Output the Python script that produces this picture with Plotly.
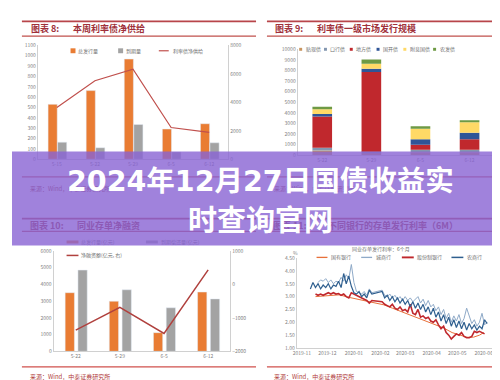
import plotly.graph_objects as go

W, H = 500, 380
def X(px): return px / W
def Y(py): return 1 - py / H

FONT = "Noto Sans CJK SC, Noto Sans, sans-serif"
TITLE_FONT = "DejaVu Sans, Noto Sans CJK SC, sans-serif"

# ---------------- Panel 1 data ----------------
p1_title = ["图表 8:", "本周利率债净供给"]
p1_cats = ["5-15", "5-22", "5-29", "6-5", "6-12"]
p1_issue = [530, 663, 968, 292, 343]
p1_mature = [165, 111, 336, 70, 159]
p1_net = [3630, 5520, 6320, 2230, 1885]
p1_names = ["总发行量", "到期量", "利率债净供给"]

# ---------------- Panel 2 data ----------------
p2_title = ["图表 9:", "利率债一级市场发行规模"]
p2_cats = ["5-22", "5-29", "6-5", "6-12"]
p2_names = ["贴现债", "口行债", "地方债", "国开债", "附息国债", "农发债"]
p2_discount = [450, 220, 300, 300]
p2_exim = [270, 110, 225, 225]
p2_local = [2950, 7540, 465, 985]
p2_cdb = [220, 300, 520, 620]
p2_coupon = [450, 460, 990, 985]
p2_adbc = [250, 400, 250, 185]

# ---------------- Panel 3 data ----------------
p3_title = ["图表 10:", "同业存单净融资"]
p3_cats = ["5-22", "5-29", "6-5", "6-12"]
p3_issue = [3500, 2990, 1115, 3540]
p3_mature = [4850, 3675, 2600, 3130]
p3_net = [-1365, -690, -1465, 430]
p3_names = ["总发行量(亿元)", "到期偿还量(亿元)", "净融资额(亿元, 右)"]

# ---------------- Panel 4 data ----------------
p4_title = ["图表 11:", "不同银行的存单发行利率（6M）"]
p4_subtitle = "同业存单发行利率：6个月"
p4_names = ["国有银行", "城商行", "股份制银行", "农商行"]
p4_dates = [
    "2019-11-11", "2019-11-14", "2019-11-17", "2019-11-20", "2019-11-23", "2019-11-26", "2019-11-29",
    "2019-12-02", "2019-12-05", "2019-12-08", "2019-12-11", "2019-12-14", "2019-12-17", "2019-12-20",
    "2019-12-23", "2019-12-26", "2019-12-29",
    "2020-01-01", "2020-01-04", "2020-01-07", "2020-01-10", "2020-01-13", "2020-01-16", "2020-01-19", "2020-01-22",
    "2020-02-03", "2020-02-06", "2020-02-09", "2020-02-12", "2020-02-15", "2020-02-18", "2020-02-21",
    "2020-02-24", "2020-02-27",
    "2020-03-01", "2020-03-04", "2020-03-07", "2020-03-10", "2020-03-13", "2020-03-16", "2020-03-19",
    "2020-03-22", "2020-03-25", "2020-03-28", "2020-03-31",
    "2020-04-03", "2020-04-06", "2020-04-09", "2020-04-12", "2020-04-15", "2020-04-18", "2020-04-21",
    "2020-04-24", "2020-04-27", "2020-04-30",
    "2020-05-03", "2020-05-06", "2020-05-09", "2020-05-12", "2020-05-15", "2020-05-18", "2020-05-21",
    "2020-05-24", "2020-05-27", "2020-05-30",
    "2020-06-02", "2020-06-05",
]
p4_city = [
    None, None, None, 3.55, 3.65, 3.6, 3.7,
    3.55, 3.65, 3.5, 3.6, 3.55, 3.75, 3.6, 3.85, 3.7, 4.25,
    3.55, 3.2, 3.15, 3.1, 3.2, 3.05, 3.3, 3.15,
    3.25, 3.05, 3.0, 3.1, 2.95, 3.05, 2.9, 3.0, 2.85,
    3.0, 2.85, 2.95, 2.8, 2.9, 3.0, 2.75, 2.9, 2.65, 2.85, 2.6,
    2.7, 2.45, 2.6, 2.3, 2.5, 2.15, 2.35, 2.0, 2.25, 2.05,
    2.3, 1.95, 2.15, 2.55, 2.2, 1.95, 2.1, 1.85, 2.0, 2.35,
    1.9, 2.0,
]
p4_rural = [
    3.3, 3.55, 3.35, 3.5, 3.3, 3.45, 3.35,
    3.5, 3.3, 3.45, 3.4, 3.6, 3.35, 3.9, 3.5, 3.8, 3.4,
    3.15, 3.1, 3.2, 3.0, 3.1, 2.95, 3.25, 3.1,
    3.2, 2.95, 3.05, 2.85, 3.0, 2.8, 2.95, 2.75, 2.9,
    2.7, 2.85, 2.6, 2.8, 2.55, 2.75, 2.5, 2.7, 2.4, 2.6, 2.3,
    2.55, 2.2, 2.4, 2.05, 2.3, 1.95, 2.2, 1.85, 2.1, 1.8,
    2.05, 1.75, 2.0, 1.7, 1.95, 1.75, 1.9, 1.7, 1.85, 1.75,
    2.1, 1.95,
]
p4_joint = [
    None, None, 3.1, 3.05, 3.1, 3.05, 3.1,
    3.15, 3.1, 3.15, 3.1, 3.12, 3.05, 3.1, 3.0, 2.95, 3.15,
    3.1, 3.05, 3.0, 2.95, 2.9, 2.85, 2.75, 2.85,
    2.8, 2.7, 2.65, 2.6, 2.7, 2.55, 2.5, 2.6, 2.45,
    2.5, 2.4, 2.7, 2.35, 2.3, 2.5, 2.2, 2.25, 2.15, 2.2, 2.05,
    2.0, 2.1, 1.9, 1.75, 1.85, 1.6, 1.5, 1.35, 1.45, 1.55,
    1.5, 1.6, 1.45, 1.4, 1.4, 1.45, 1.65, 1.6, 1.65, 1.6,
    1.55, None,
]
p4_state_dates = [
    "2019-11-17", "2019-11-25", "2019-12-05", "2019-12-15", "2019-12-25", "2020-01-05", "2020-01-15",
    "2020-01-22", "2020-02-05", "2020-02-15", "2020-02-25", "2020-03-05", "2020-03-15", "2020-03-25",
    "2020-04-05", "2020-04-15", "2020-04-25", "2020-05-05", "2020-05-12", "2020-05-20", "2020-05-27",
    "2020-06-01",
]
p4_state = [
    3.0, 3.02, 3.05, 3.07, 2.98, 2.9, 2.85,
    2.8, 2.68, 2.55, 2.42, 2.3, 2.2, 2.05,
    1.92, 1.78, 1.6, 1.48, 1.42, 1.42, 1.5,
    1.6,
]

source_text = "来源：Wind，中泰证券研究所"
big_title = ["2024年12月27日国债收益实", "时查询官网"]

# colours
ORANGE = "#E97C33"
GRAY = "#A3A3A3"
LINE1 = "#C0504D"
P2_COLORS = ["#C8955F", "#8497B0", "#C0282D", "#2F5597", "#FFD966", "#6E9A44"]
P4_COLORS = ["#E8703A", "#8FAAC8", "#C0282D", "#2F5F8F"]
P4_WIDTHS = [1.0, 1.0, 1.6, 1.2]
HEAD = "#A0303A"
TICK = "#7f7f7f"
AXL = "#d0d0d0"

fig = go.Figure()

# ---- panel 1 traces ----
fig.add_trace(go.Bar(x=p1_cats, y=p1_issue, marker_color=ORANGE, width=0.24, offset=-0.23,
                     xaxis="x", yaxis="y", name=p1_names[0]))
fig.add_trace(go.Bar(x=p1_cats, y=p1_mature, marker_color=GRAY, width=0.24, offset=0.02,
                     xaxis="x", yaxis="y", name=p1_names[1]))
fig.add_trace(go.Scatter(x=p1_cats, y=p1_net, mode="lines", line=dict(color=LINE1, width=1.2),
                         xaxis="x", yaxis="y2", name=p1_names[2]))

# ---- panel 2 traces (stacked via base) ----
p2_series = [p2_discount, p2_exim, p2_local, p2_cdb, p2_coupon, p2_adbc]
base = [0] * len(p2_cats)
for name, vals, col in zip(p2_names, p2_series, P2_COLORS):
    fig.add_trace(go.Bar(x=p2_cats, y=vals, base=list(base), marker_color=col, width=0.4, offset=-0.2,
                         xaxis="x2", yaxis="y3", name=name, marker_line_width=0))
    base = [b + v for b, v in zip(base, vals)]

# ---- panel 3 traces ----
fig.add_trace(go.Bar(x=p3_cats, y=p3_issue, marker_color=ORANGE, width=0.21, offset=-0.24,
                     xaxis="x3", yaxis="y4", name=p3_names[0]))
fig.add_trace(go.Bar(x=p3_cats, y=p3_mature, marker_color=GRAY, width=0.21, offset=0.05,
                     xaxis="x3", yaxis="y4", name=p3_names[1]))
fig.add_trace(go.Scatter(x=p3_cats, y=p3_net, mode="lines", line=dict(color="#B0413E", width=1.5),
                         xaxis="x3", yaxis="y5", name=p3_names[2]))

# ---- panel 4 traces ----
p4_x = [p4_state_dates, p4_dates, p4_dates, p4_dates]
p4_y = [p4_state, p4_city, p4_joint, p4_rural]
for name, xs, ys, col, w in zip(p4_names, p4_x, p4_y, P4_COLORS, P4_WIDTHS):
    fig.add_trace(go.Scatter(x=xs, y=ys, mode="lines", line=dict(color=col, width=w),
                             connectgaps=True, xaxis="x4", yaxis="y6", name=name))

tickfont = dict(family=FONT, size=5, color=TICK)
ax_common = dict(showgrid=False, zeroline=False, showline=True, linecolor=AXL, linewidth=1,
                 tickfont=tickfont, ticks="", fixedrange=True)
num_ax = dict(ax_common, tickformat="d")

fig.update_layout(
    width=W, height=H, margin=dict(l=0, r=0, t=0, b=0),
    paper_bgcolor="white", plot_bgcolor="rgba(0,0,0,0)",
    barmode="overlay", showlegend=False, font=dict(family=FONT),
    xaxis=dict(ax_common, domain=[X(26), X(218)], anchor="y", type="category", range=[-0.5, 4.5]),
    yaxis=dict(num_ax, domain=[Y(150), Y(34)], anchor="x", range=[0, 1100], dtick=100),
    yaxis2=dict(num_ax, overlaying="y", side="right", anchor="x", range=[0, 8000], dtick=2000),
    xaxis2=dict(ax_common, domain=[X(288), X(486)], anchor="y3", type="category", range=[-0.5, 3.5]),
    yaxis3=dict(num_ax, domain=[Y(146), Y(38)], anchor="x2", range=[0, 10000], dtick=1000),
    xaxis3=dict(ax_common, domain=[X(42), X(220)], anchor="y4", type="category", range=[-0.5, 3.5]),
    yaxis4=dict(num_ax, domain=[Y(345.7), Y(243.3)], anchor="x3", range=[0, 6000], dtick=1000),
    yaxis5=dict(num_ax, overlaying="y4", side="right", anchor="x3", range=[-2000, 1000], dtick=1000),
    xaxis4=dict(ax_common, domain=[X(287), X(485)], anchor="y6", type="date",
                range=["2019-10-26", "2020-06-12"], dtick="M1", tickformat="%Y-%m"),
    yaxis6=dict(ax_common, domain=[Y(342.3), Y(250.7)], anchor="x4", range=[1, 4.5], dtick=0.5,
                tickformat=".2f"),
)

shapes = []
annots = []

def hline(x0, x1, py, color, width):
    shapes.append(dict(type="line", xref="paper", yref="paper", x0=X(x0), x1=X(x1), y0=Y(py), y1=Y(py),
                       line=dict(color=color, width=width)))

def rect(x0, x1, y0, y1, color):
    shapes.append(dict(type="rect", xref="paper", yref="paper", x0=X(x0), x1=X(x1), y0=Y(y0), y1=Y(y1),
                       fillcolor=color, line=dict(width=0)))

def text(px, py, s, size, color, bold=False, anchor="left", family=FONT):
    annots.append(dict(xref="paper", yref="paper", x=X(px), y=Y(py), text=s, showarrow=False,
                       xanchor=anchor, yanchor="middle", borderpad=0,
                       font=dict(family=family, size=size, color=color, weight=700 if bold else 400)))

# tinted colours for text lying under the purple band
HEAD_T = "#8D59B4"
SRC_T = "#8D5AB4"
LEG_T = "#8567C1"

# header rules and source rules
for (x0, x1) in [(10, 246), (257, 492)]:
    hline(x0, x1, 9.5, "#B8454A", 1.6)
    hline(x0, x1, 24.5, "#C0504D", 1.2)
    hline(x0, x1, 168, "#D0504D", 1.2)
    hline(x0, x1, 210.5, "#B8454A", 1.6)
    hline(x0, x1, 223.5, "#C0504D", 1.2)
    hline(x0, x1, 361.5, "#D0504D", 1.2)

# headers
text(18, 17, p1_title[0], 9, HEAD, True)
text(60, 17, p1_title[1], 9, HEAD, True)
text(264, 17, p2_title[0], 9, HEAD, True)
text(306, 17, p2_title[1], 9, HEAD, True)
text(17, 217, p3_title[0], 9, HEAD_T, True)
text(65, 217, p3_title[1], 9, HEAD_T, True)
text(262, 217, p4_title[0], 9, HEAD_T, True)
text(318, 217, p4_title[1], 9, HEAD_T, True)

# sources
text(17, 180, source_text, 6, SRC_T)
text(263, 180, source_text, 6, SRC_T)
text(17, 371, source_text, 6, "#B03A3A")
text(263, 371, source_text, 6, "#B03A3A")

# panel 1 legend
rect(59, 64, 37, 42, ORANGE); text(66, 39.5, p1_names[0], 5, "#6f6f6f")
rect(107, 112, 37, 42, GRAY); text(114, 39.5, p1_names[1], 5, "#6f6f6f")
hline(148, 158, 39.5, LINE1, 1.2); text(161, 39.5, p1_names[2], 5, "#6f6f6f")

# panel 2 legend
for cx, name, col in zip([291, 316, 342, 369, 396, 426], p2_names, P2_COLORS):
    rect(cx - 1.5, cx + 1.5, 36.5, 39.5, col)
    text(cx + 4, 38, name, 5, "#6f6f6f")

# panel 3 legend
rect(55, 67, 232.8, 235.8, ORANGE); text(69, 234.3, p3_names[0], 5, LEG_T)
rect(135, 147, 232.8, 235.8, GRAY); text(149, 234.3, p3_names[1], 5, LEG_T)
hline(55, 67, 248, "#B0413E", 1.5); text(69, 248, p3_names[2], 5, "#6f6f6f")

# panel 4 subtitle / legend
text(372, 241, p4_subtitle, 5, "#6f6f6f", anchor="center")
text(286, 245, "%", 5, TICK, anchor="center")
for (x0, x1), name, col, w in zip([(307, 318), (352, 363), (393, 405), (443, 455)], p4_names, P4_COLORS, P4_WIDTHS):
    hline(x0, x1, 250, col, w + 0.3)
    text(x1 + 2.5, 250, name, 5, "#6f6f6f")

# purple banner on top
rect(0, 500, 142, 238, "rgba(136,99,211,0.8)")
shapes[-1]["layer"] = "above"

text(250, 173, big_title[0], 28.5, "white", True, anchor="center", family=TITLE_FONT)
text(251, 210, big_title[1], 29, "white", True, anchor="center")

fig.update_layout(shapes=shapes, annotations=annots)
fig.write_html("out.html")
